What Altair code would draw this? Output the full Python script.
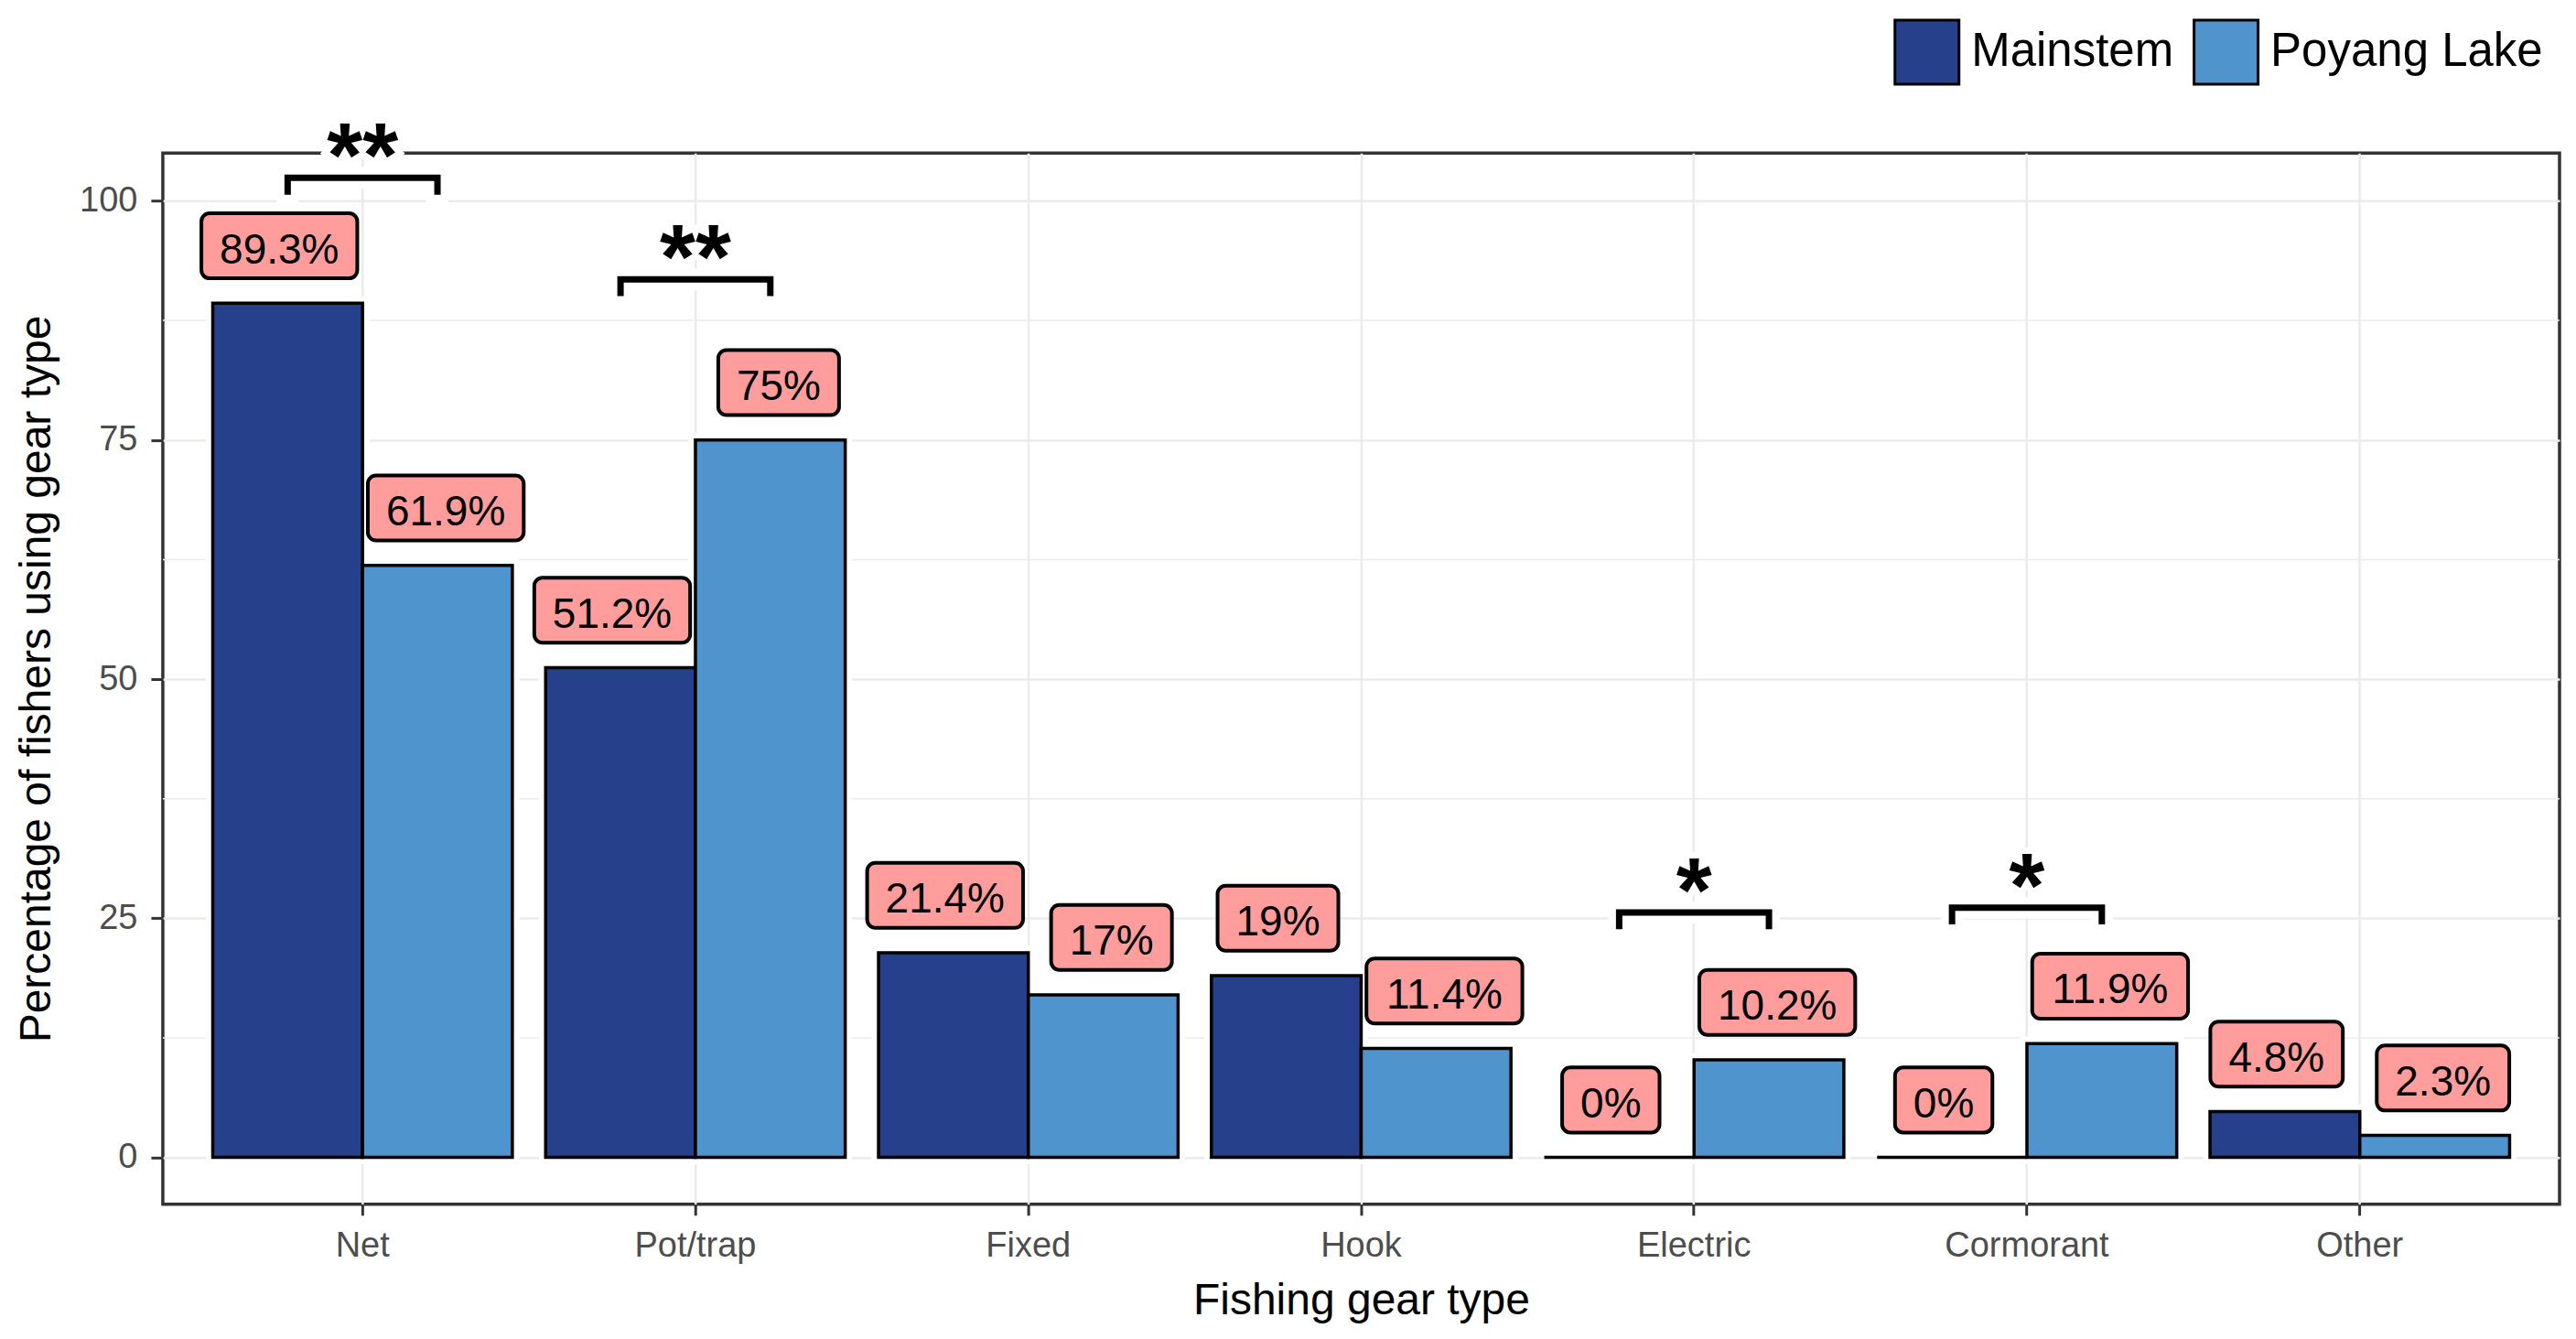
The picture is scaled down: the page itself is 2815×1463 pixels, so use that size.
import altair as alt
import pandas as pd

# ---- data ----
categories = ["Net", "Pot/trap", "Fixed", "Hook", "Electric", "Cormorant", "Other"]
groups = ["Mainstem", "Poyang Lake"]
mainstem = [89.3, 51.2, 21.4, 19, 0, 0, 4.8]
poyang = [61.9, 75, 17, 11.4, 10.2, 11.9, 2.3]

sig_categories = ["Net", "Pot/trap", "Electric", "Cormorant"]
sig_heights = [102.4, 91.8, 25.6, 26.1]
sig_marks = ["**", "**", "*", "*"]

y_ticks = [0, 25, 50, 75, 100]
y_minor = [12.5, 37.5, 62.5, 87.5]

# ---- styling constants ----
colors = ["#27408B", "#4F94CD"]
FONT = "Liberation Sans"
LABEL_NUDGE = 6.0       # label centre above bar top (data units)
BOX_HALF = 3.4          # half height of label box (data units)
TIP = 1.75              # bracket tip length (data units)
LABEL_FS = 46
CHAR_W = {".": 0.278, "%": 0.889}

W, H = 2620, 1149
STEP = W / 7.2
LABEL_SHIFT = 0.25 * STEP   # labels dodged at width 1

rows = []
for c, m, p in zip(categories, mainstem, poyang):
    for g, v in zip(groups, [m, p]):
        txt = f"{v:g}%"
        tw = sum(CHAR_W.get(ch, 0.556) for ch in txt) * LABEL_FS
        rows.append({"cat": c, "grp": g, "v": v, "txt": txt,
                     "ly": v + LABEL_NUDGE,
                     "ly0": v + LABEL_NUDGE - BOX_HALF,
                     "ly1": v + LABEL_NUDGE + BOX_HALF,
                     "bw": tw + 40})
bars_df = pd.DataFrame(rows)

brows = []
for i, (c, h) in enumerate(zip(sig_categories, sig_heights)):
    pts = [(groups[0], h - TIP), (groups[0], h), (groups[1], h), (groups[1], h - TIP)]
    for k, (g, y) in enumerate(pts):
        brows.append({"sig": i, "cat": c, "grp": g, "y": y, "ord": k})
br_df = pd.DataFrame(brows)
stars_df = pd.DataFrame({"cat": sig_categories, "y": sig_heights, "s": sig_marks})
minor_df = pd.DataFrame({"y": y_minor})

x_scale = alt.Scale(domain=categories, paddingInner=0.1, paddingOuter=0.15)
xo_scale = alt.Scale(domain=groups, paddingInner=0, paddingOuter=0)
y_scale = alt.Scale(domain=[-4.9, 105.0], nice=False, zero=False)

x_axis = alt.Axis(grid=True, gridColor="#EBEBEB", gridWidth=2.5, domain=False,
                  tickColor="#333333", tickWidth=3, tickSize=12, labelPadding=15,
                  labelFontSize=38, labelColor="#4D4D4D", labelAngle=0, labelFont=FONT,
                  title="Fishing gear type", titleFontSize=48, titleFontWeight="normal",
                  titleColor="black", titleFont=FONT, titleY=120, titleBaseline="alphabetic")
y_axis = alt.Axis(values=y_ticks, grid=True, gridColor="#EBEBEB", gridWidth=2.5, domain=False,
                  tickColor="#333333", tickWidth=3, tickSize=13, labelPadding=15,
                  labelFontSize=38, labelColor="#4D4D4D", labelFont=FONT,
                  title="Percentage of fishers using gear type", titleFontSize=48,
                  titleFontWeight="normal", titleColor="black", titleFont=FONT,
                  titleX=-123, titleBaseline="alphabetic", titleAngle=270)

def X():
    return alt.X("cat:N", scale=x_scale, sort=categories, axis=x_axis)

def XO():
    return alt.XOffset("grp:N", scale=xo_scale, sort=groups)

def Y(field):
    return alt.Y(field, scale=y_scale, axis=y_axis)

minor = alt.Chart(minor_df).mark_rule(color="#EBEBEB", strokeWidth=1.5).encode(y=Y("y:Q"))

bar_halo = alt.Chart(bars_df).mark_bar(fill="white", stroke="white", strokeWidth=15).encode(
    x=X(), xOffset=XO(), y=Y("v:Q"))

br_halo = alt.Chart(br_df).mark_line(color="white", strokeWidth=24, strokeCap="square",
                                     strokeJoin="miter").encode(
    x=X(), xOffset=XO(), y=Y("y:Q"), detail="sig:N", order="ord:Q")

STAR_FS = 100
STAR_DY = 10
star_halo = alt.Chart(stars_df).mark_text(font=FONT, fontSize=STAR_FS, fontWeight="bold",
                                          baseline="alphabetic", dy=STAR_DY, color="white",
                                          stroke="white", strokeWidth=14).encode(
    x=X(), y=Y("y:Q"), text="s:N")

bars = alt.Chart(bars_df).mark_bar(stroke="black", strokeWidth=3.5).encode(
    x=X(), xOffset=XO(), y=Y("v:Q"),
    color=alt.Color("grp:N", scale=alt.Scale(domain=groups, range=colors),
                    legend=alt.Legend(title=None, orient="none", legendX=1892, legendY=-147,
                                      direction="horizontal", symbolType="square",
                                      symbolSize=4900, symbolStrokeColor="black",
                                      symbolStrokeWidth=3, labelFontSize=51,
                                      labelColor="black", labelFont=FONT, labelOffset=12,
                                      columnPadding=15, labelLimit=1000, padding=0)))

label_layers = []
for g, sign in zip(groups, [-1, 1]):
    sub = bars_df[bars_df["grp"] == g]
    box = alt.Chart(sub).mark_bar(fill="#FF9D9D", stroke="black", strokeWidth=4,
                                  cornerRadius=9, xOffset=sign * LABEL_SHIFT).encode(
        x=X(), y=Y("ly0:Q"), y2="ly1:Q",
        size=alt.Size("bw:Q", scale=None, legend=None))
    txt = alt.Chart(sub).mark_text(font=FONT, fontSize=LABEL_FS, color="black",
                                   baseline="middle", dx=sign * LABEL_SHIFT, dy=5).encode(
        x=X(), y=Y("ly:Q"), text="txt:N")
    label_layers += [box, txt]

brackets = alt.Chart(br_df).mark_line(color="black", strokeWidth=7, strokeCap="butt",
                                      strokeJoin="miter").encode(
    x=X(), xOffset=XO(), y=Y("y:Q"), detail="sig:N", order="ord:Q")

stars = alt.Chart(stars_df).mark_text(font=FONT, fontSize=STAR_FS, fontWeight="bold",
                                      baseline="alphabetic", dy=STAR_DY, color="black").encode(
    x=X(), y=Y("y:Q"), text="s:N")

chart = alt.layer(minor, bar_halo, br_halo, star_halo, bars, *label_layers, brackets, stars).properties(
    width=W, height=H,
    autosize=alt.AutoSizeParams(type="none"),
    padding={"left": 170, "top": 159, "right": 10, "bottom": 130},
).configure(font=FONT, background="white").configure_view(stroke="#333333", strokeWidth=3.5)

chart.save("out.html", embed_options={"renderer": "svg", "actions": False})
